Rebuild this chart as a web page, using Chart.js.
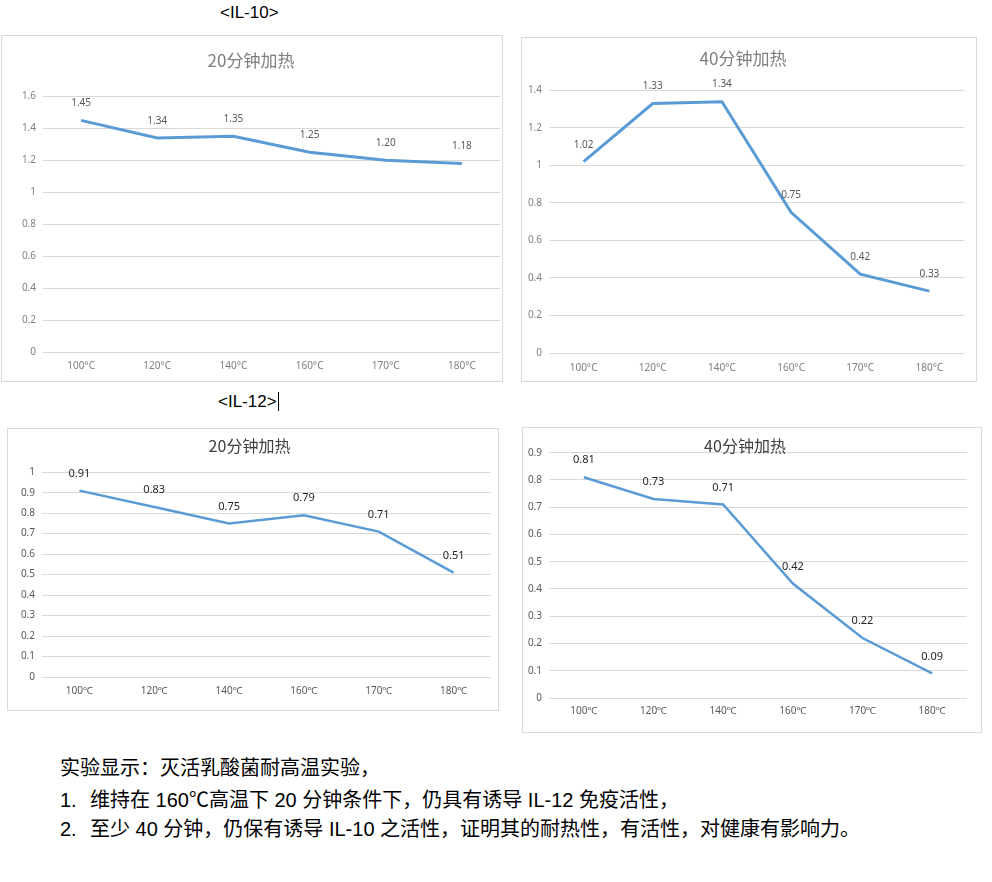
<!DOCTYPE html>
<html lang="zh-CN">
<head>
<meta charset="utf-8">
<title>灭活乳酸菌耐高温实验</title>
<script src="https://cdn.jsdelivr.net/npm/chart.js"></script>
<style>
    body { margin: 0; background: #fff; }
    #page { position: relative; width: 992px; height: 882px; font-family: "Liberation Sans", "Noto Sans CJK SC", sans-serif; color: #000; }
    .box { position: absolute; border: 1px solid #d9d9d9; box-sizing: border-box; background: #fff; }
    .box canvas { position: absolute; left: 0; top: 0; }
    .head { position: absolute; font-size: 17px; line-height: 20px; white-space: nowrap; }
    .cursor { display: inline-block; width: 1px; height: 19px; background: #000; vertical-align: -4px; margin-left: 1px; }
    .notes { position: absolute; left: 60px; top: 754px; font-size: 20px; line-height: 29.5px; white-space: nowrap; }
    .notes .num { display: inline-block; width: 30px; }
    .cjk { font-family: "Noto Sans CJK SC", sans-serif; }
</style>
</head>
<body>
<div id="page">
    <div class="head" style="left:220px;top:3px">&lt;IL-10&gt;</div>
    <div class="box" style="left:1px;top:35px;width:502px;height:347px"><canvas id="il10a" width="500" height="345"></canvas></div>
    <div class="box" style="left:521px;top:37px;width:456px;height:345px"><canvas id="il10b" width="454" height="343"></canvas></div>

    <div class="head" style="left:218px;top:392px">&lt;IL-12&gt;<span class="cursor"></span></div>
    <div class="box" style="left:7px;top:428px;width:492px;height:283px"><canvas id="il12a" width="490" height="281"></canvas></div>
    <div class="box" style="left:522px;top:427px;width:460px;height:306px"><canvas id="il12b" width="458" height="304"></canvas></div>

    <div class="notes">
        <div>实验显示：灭活乳酸菌耐高温实验，</div>
        <div><span class="num">1.</span>维持在 160<span class="cjk">℃</span>高温下 20 分钟条件下，仍具有诱导 IL-12 免疫活性，</div>
        <div><span class="num">2.</span>至少 40 分钟，仍保有诱导 IL-10 之活性，证明其的耐热性，有活性，对健康有影响力。</div>
    </div>
</div>

<script>
// данные графиков
const tempsTop = ['100°C', '120°C', '140°C', '160°C', '170°C', '180°C'];
const tempsBottom = ['100℃', '120℃', '140℃', '160℃', '170℃', '180℃'];

const il10Heat20 = [1.45, 1.34, 1.35, 1.25, 1.20, 1.18];
const il10Heat40 = [1.02, 1.33, 1.34, 0.75, 0.42, 0.33];
const il12Heat20 = [0.91, 0.83, 0.75, 0.79, 0.71, 0.51];
const il12Heat40 = [0.81, 0.73, 0.71, 0.42, 0.22, 0.09];

const yMaxes = [1.6, 1.4, 1, 0.9];
const ySteps = [0.2, 0.2, 0.1, 0.1];

const LINE_COLOR = '#5b9bd5';
const SANS = "'Noto Sans', 'Noto Sans CJK SC', sans-serif";

// подписи значений над точками
const valueLabels = {
    id: 'valueLabels',
    afterDatasetsDraw(chart, args, opts) {
        const ctx = chart.ctx;
        const meta = chart.getDatasetMeta(0);
        const values = chart.data.datasets[0].data;
        ctx.save();
        ctx.font = opts.size + 'px ' + SANS;
        ctx.fillStyle = opts.color;
        ctx.textAlign = 'center';
        ctx.textBaseline = 'middle';
        meta.data.forEach((pt, i) => {
            ctx.fillText(values[i].toFixed(2), pt.x, pt.y - opts.offset);
        });
        ctx.restore();
    }
};

function buildChart(id, c) {
    const canvas = document.getElementById(id);
    if (!canvas) return null;

    return new Chart(canvas, {
        type: 'line',
        data: {
            labels: c.labels,
            datasets: [{
                data: c.values,
                borderColor: LINE_COLOR,
                borderWidth: c.lineWidth,
                pointRadius: 0,
                tension: 0,
                fill: false
            }]
        },
        options: {
            responsive: false,
            animation: false,
            devicePixelRatio: 1,
            layout: { padding: { left: 0, right: c.padRight, top: 0, bottom: 0 } },
            plugins: {
                legend: { display: false },
                tooltip: { enabled: false },
                title: {
                    display: true,
                    text: c.title,
                    color: c.titleColor,
                    font: { family: "'Noto Sans CJK SC', sans-serif", size: c.titleSize, weight: 'normal' },
                    padding: { top: c.titleTop, bottom: c.titleBottom }
                },
                valueLabels: { size: c.valueSize, color: c.valueColor, offset: 17 }
            },
            scales: {
                x: {
                    offset: true,
                    grid: { display: false, drawTicks: false },
                    border: { display: false },
                    ticks: { color: c.tickColor, font: { family: SANS, size: 10 }, padding: c.xPad, maxRotation: 0, autoSkip: false },
                    afterFit(s) { s.height = c.xHeight; }
                },
                y: {
                    min: 0,
                    max: c.max,
                    grid: { color: '#d9d9d9', lineWidth: 1, drawTicks: false },
                    border: { display: false },
                    ticks: {
                        stepSize: c.step,
                        color: c.tickColor,
                        font: { family: SANS, size: 10 },
                        padding: 7,
                        callback: v => String(+Number(v).toFixed(2))
                    },
                    afterFit(s) { s.width = c.yWidth; }
                }
            }
        },
        plugins: [valueLabels]
    });
}

// IL-10
buildChart('il10a', {
    labels: tempsTop, values: il10Heat20, max: yMaxes[0], step: ySteps[0],
    title: '20分钟加热', titleSize: 17, titleColor: '#7f7f7f', titleTop: 14, titleBottom: 26,
    yWidth: 41, xHeight: 29, xPad: 8, padRight: 2, lineWidth: 3,
    tickColor: '#7f7f7f', valueSize: 10, valueColor: '#595959'
});
buildChart('il10b', {
    labels: tempsTop, values: il10Heat40, max: yMaxes[1], step: ySteps[1],
    title: '40分钟加热', titleSize: 17, titleColor: '#7f7f7f', titleTop: 10, titleBottom: 22,
    yWidth: 27, xHeight: 28, xPad: 9, padRight: 12, lineWidth: 3,
    tickColor: '#7f7f7f', valueSize: 10, valueColor: '#595959'
});

// IL-12
buildChart('il12a', {
    labels: tempsBottom, values: il12Heat20, max: yMaxes[2], step: ySteps[2],
    title: '20分钟加热', titleSize: 16, titleColor: '#404040', titleTop: 7, titleBottom: 17,
    yWidth: 34, xHeight: 33, xPad: 8, padRight: 7, lineWidth: 2.5,
    tickColor: '#595959', valueSize: 11, valueColor: '#262626'
});
buildChart('il12b', {
    labels: tempsBottom, values: il12Heat40, max: yMaxes[3], step: ySteps[3],
    title: '40分钟加热', titleSize: 16, titleColor: '#404040', titleTop: 8, titleBottom: -2.5,
    yWidth: 26, xHeight: 34, xPad: 7, padRight: 14, lineWidth: 2.5,
    tickColor: '#595959', valueSize: 11, valueColor: '#262626'
});
</script>
</body>
</html>
